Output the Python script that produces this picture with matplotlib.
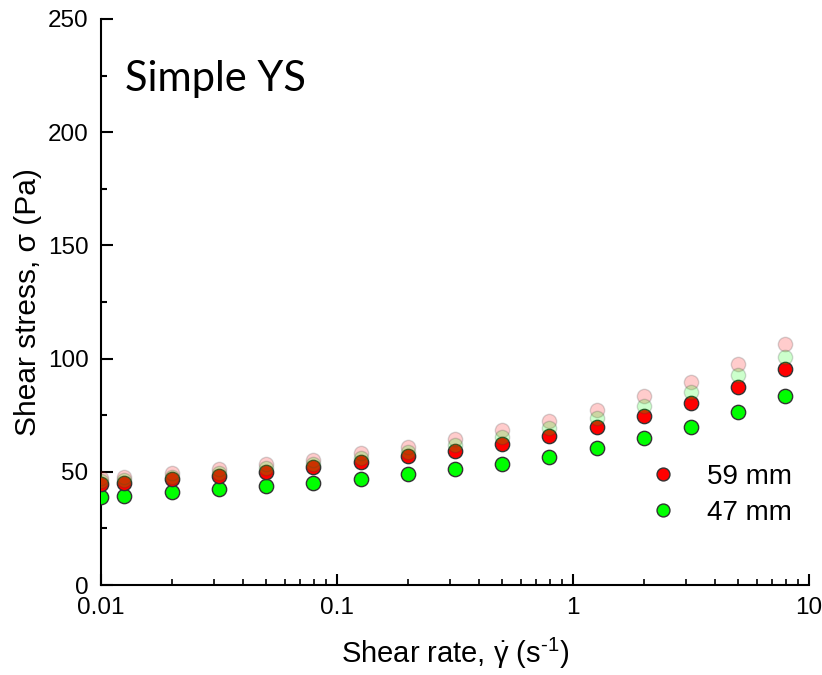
import numpy as np
import matplotlib
matplotlib.use('Agg')
import matplotlib.pyplot as plt
from matplotlib.ticker import MultipleLocator, FixedLocator, LogLocator, NullFormatter

plt.rcParams['font.family'] = ['Liberation Sans', 'DejaVu Sans']
plt.rcParams['mathtext.fontset'] = 'custom'
plt.rcParams['mathtext.rm'] = 'Liberation Sans'
plt.rcParams['mathtext.it'] = 'Liberation Sans:italic'

# shear rate points (1/s)
rate = [0.01, 0.0125, 0.02, 0.0316, 0.05, 0.0794, 0.126, 0.2, 0.316, 0.5,
        0.794, 1.26, 2.0, 3.16, 5.0, 7.94]

# shear stress (Pa)
stress_59 = [44.5, 45.2, 46.7, 48.1, 49.8, 52.1, 54.2, 57.0, 59.3, 62.2,
             65.9, 70.0, 74.8, 80.4, 87.4, 95.2]
stress_47 = [39.0, 39.5, 40.9, 42.3, 43.6, 45.2, 47.0, 49.0, 51.2, 53.3,
             56.7, 60.3, 64.8, 69.8, 76.5, 83.6]
# faded background series
stress_59_bg = [47.2, 47.8, 49.3, 51.2, 53.3, 55.2, 58.2, 61.1, 64.6, 68.4,
                72.5, 77.5, 83.3, 89.7, 97.5, 106.3]
stress_47_bg = [45.9, 46.4, 47.8, 49.6, 51.5, 53.4, 55.9, 58.9, 62.0, 65.5,
                69.2, 73.8, 79.0, 85.4, 92.6, 100.9]

fig = plt.figure(figsize=(8.22, 6.75), dpi=100)
ax = fig.add_axes([101/822, 90/675, 708/822, 566/675])

mk = dict(marker='o', linestyle='none', mec='#333333', mew=1.0, ms=10.3)
ax.plot(rate, stress_47, color='#00ff00', label='47 mm', zorder=3, **mk)
ax.plot(rate, stress_59, color='#ff0000', label='59 mm', zorder=4, **mk)
ax.plot(rate, stress_59_bg, color='#ff0000', alpha=0.2, zorder=5, **mk)
ax.plot(rate, stress_47_bg, color='#00ff00', alpha=0.2, zorder=6, **mk)

ax.set_xscale('log')
ax.set_xlim(0.01, 10)
ax.set_ylim(0, 250)
ax.xaxis.set_major_locator(FixedLocator([0.01, 0.1, 1, 10]))
ax.set_xticklabels(['0.01', '0.1', '1', '10'])
ax.xaxis.set_minor_locator(LogLocator(base=10, subs=np.arange(2, 10)))
ax.xaxis.set_minor_formatter(NullFormatter())
ax.yaxis.set_major_locator(MultipleLocator(50))
ax.yaxis.set_minor_locator(MultipleLocator(25))

for s in ['top', 'right']:
    ax.spines[s].set_visible(False)
for s in ['left', 'bottom']:
    ax.spines[s].set_linewidth(1.5)

ax.tick_params(axis='both', which='major', direction='in', labelsize=17.5, width=1.5)
ax.tick_params(axis='y', which='major', length=8.6, pad=9)
ax.tick_params(axis='x', which='major', length=8, pad=9)
ax.tick_params(axis='y', which='minor', direction='in', length=4.5, width=1.5)
ax.tick_params(axis='x', which='minor', direction='in', length=4, width=1.2)

ax.set_xlabel(r'Shear rate, $\dot{\mathrm{\gamma}}$ (s$^{\text{-1}}$)', fontsize=21, labelpad=12)
ax.set_ylabel('Shear stress, σ (Pa)', fontsize=21.5, labelpad=4.5)

h, l = ax.get_legend_handles_labels()
ax.legend(h[::-1], l[::-1], loc='upper left', bbox_to_anchor=(649/822, 1 - 464/675),
          bbox_transform=fig.transFigure, frameon=False, fontsize=20,
          handlelength=1.0, handletextpad=1.1, labelspacing=0.35, borderpad=0,
          borderaxespad=0, markerscale=0.9)

fig.text(125/822, 1 - 91/675, 'Simple YS', family='Lato', fontsize=30, va='baseline')

fig.savefig('out.png', dpi=100)
